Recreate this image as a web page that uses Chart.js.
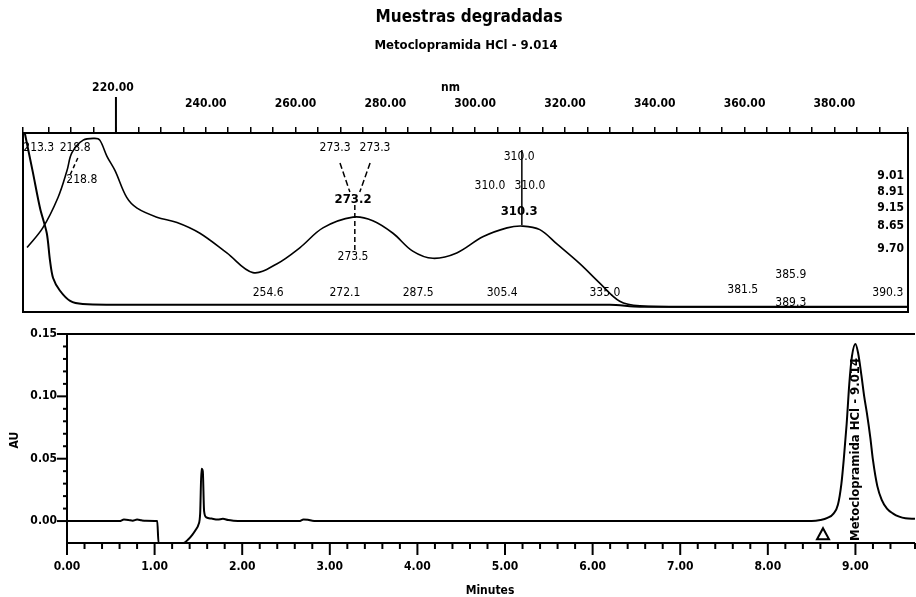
<!DOCTYPE html>
<html>
<head>
<meta charset="utf-8">
<script src="https://cdn.jsdelivr.net/npm/chart.js@4.4.1/dist/chart.umd.min.js"></script>
<style>
  html, body { margin: 0; padding: 0; background: #fff; }
  #wrap { position: relative; width: 916px; height: 597px; overflow: hidden; }
  .box { position: absolute; left: 0; width: 916px; }
</style>
</head>
<body>
<div id="wrap">
  <div class="box" style="top:0;height:318px"><canvas id="spec"></canvas></div>
  <div class="box" style="top:312px;height:285px"><canvas id="chrom"></canvas></div>
</div>
<script>
const FONT = "'DejaVu Sans Condensed', 'Liberation Sans Narrow', 'DejaVu Sans', sans-serif";
Chart.defaults.font.family = FONT;
Chart.defaults.color = "#000";

// UV spectrum (nm / absorbance, relative units)
const specNm = [200.2, 203.7, 207.1, 209.1, 210.2, 212.7, 215.3, 216.4, 218.0, 219.8, 222.4, 224.7,
  229.1, 233.6, 238.7, 244.7, 250.5, 255.9, 261.0, 266.1, 272.8, 277.2, 281.7, 286.1, 290.6,
  295.9, 301.7, 307.1, 310.6, 314.4, 318.2, 323.3, 327.8, 332.2, 336.7, 350.0, 396.4];
const specAbs = [0.36, 0.47, 0.64, 0.79, 0.89, 0.96, 0.97, 0.96, 0.87, 0.79, 0.64, 0.58,
  0.53, 0.50, 0.44, 0.33, 0.22, 0.27, 0.36, 0.47, 0.53, 0.51, 0.44, 0.34, 0.30,
  0.33, 0.42, 0.47, 0.48, 0.46, 0.38, 0.27, 0.16, 0.06, 0.034, 0.028, 0.028];

// second spectrum, falls off fast below 215 nm
const lowNm = [199.7, 201.5, 203.1, 204.6, 205.3, 206.0, 207.5, 209.8, 212.6, 227.6, 330.0, 336.7, 396.4];
const lowAbs = [1.0, 0.78, 0.58, 0.44, 0.29, 0.19, 0.12, 0.062, 0.045, 0.04, 0.04, 0.03, 0.03];

// peak / valley annotations on the spectrum
const specLabels = [
  { nm: 202.8, v: 0.916, text: "213.3" },
  { nm: 210.9, v: 0.916, text: "218.8" },
  { nm: 212.4, v: 0.737, text: "218.8" },
  { nm: 268.8, v: 0.916, text: "273.3" },
  { nm: 277.7, v: 0.916, text: "273.3" },
  { nm: 272.8, v: 0.626, text: "273.2", bold: true },
  { nm: 272.8, v: 0.307, text: "273.5" },
  { nm: 253.9, v: 0.106, text: "254.6" },
  { nm: 271.0, v: 0.106, text: "272.1" },
  { nm: 287.3, v: 0.106, text: "287.5" },
  { nm: 309.8, v: 0.866, text: "310.0" },
  { nm: 303.3, v: 0.704, text: "310.0" },
  { nm: 312.2, v: 0.704, text: "310.0" },
  { nm: 309.8, v: 0.559, text: "310.3", bold: true },
  { nm: 306.0, v: 0.106, text: "305.4" },
  { nm: 328.9, v: 0.106, text: "335.0" },
  { nm: 359.6, v: 0.123, text: "381.5" },
  { nm: 370.3, v: 0.207, text: "385.9" },
  { nm: 370.3, v: 0.050, text: "389.3" },
  { nm: 391.9, v: 0.106, text: "390.3" }
];
const rtList = ["9.01", "8.91", "9.15", "8.65", "9.70"];
const rtLevels = [0.76, 0.67, 0.58, 0.48, 0.35];

// chromatogram (minutes / AU)
const chromTime = [0, 0.6, 0.65, 0.7, 0.75, 0.8, 0.85, 0.9, 1.0, 1.03, 1.045, 1.33, 1.38, 1.43, 1.47,
  1.5, 1.52, 1.535, 1.55, 1.565, 1.59, 1.65, 1.72, 1.78, 1.84, 1.9, 2.0, 2.65, 2.7, 2.75, 2.8, 2.85,
  8.5, 8.6, 8.68, 8.75, 8.8, 8.84, 8.87, 8.9, 8.93, 8.96, 9.0, 9.03, 9.07, 9.1, 9.13, 9.17, 9.2,
  9.25, 9.3, 9.36, 9.43, 9.5, 9.57, 9.68];
const chromAU = [0, 0, 0.0012, 0.0009, 0.0003, 0.0012, 0.0006, 0.0002, 0.0001, 0, -0.0176, -0.0176,
  -0.015, -0.011, -0.007, -0.003, 0.006, 0.042, 0.040, 0.008, 0.003, 0.002, 0.0012, 0.0018, 0.0008,
  0.0003, 0, 0, 0.0012, 0.001, 0.0002, 0, 0, 0.0008, 0.0025, 0.006, 0.013, 0.03, 0.052, 0.078,
  0.11, 0.132, 0.142, 0.135, 0.116, 0.1, 0.087, 0.067, 0.049, 0.028, 0.017, 0.01, 0.006, 0.0035,
  0.0022, 0.0018];
const peakName = "Metoclopramida HCl - 9.014";
const peakTime = 9.0;

const xy = (xs, ys) => xs.map((x, i) => ({ x: x, y: ys[i] }));

// the tick padding would otherwise be added to the side margins
function fixHeight(h) {
  return scale => {
    scale.height = h;
    scale.paddingLeft = 0;
    scale.paddingRight = 0;
  };
}

const specDecor = {
  id: "specDecor",
  afterDraw(chart) {
    const { ctx, chartArea: a, scales: { x, y } } = chart;
    ctx.save();
    ctx.strokeStyle = "#000";
    ctx.fillStyle = "#000";
    ctx.lineWidth = 2;
    ctx.strokeRect(a.left, a.top, a.right - a.left, a.bottom - a.top);

    // titles
    ctx.textAlign = "center";
    ctx.textBaseline = "middle";
    ctx.font = "bold 17px " + FONT;
    ctx.fillText("Muestras degradadas", 469, 18);
    ctx.font = "bold 13px " + FONT;
    ctx.fillText(peakName, 466, 46);

    // extracted wavelength marker
    const px220 = x.getPixelForValue(220);
    ctx.beginPath();
    ctx.moveTo(px220, 97);
    ctx.lineTo(px220, a.top);
    ctx.stroke();
    ctx.font = "bold 12px " + FONT;
    ctx.fillText("220.00", px220 - 3, 88);
    ctx.fillText("nm", x.getPixelForValue(294.5), 88);

    // leader lines
    ctx.lineWidth = 1.5;
    const seg = (a1, b1, a2, b2, dash) => {
      ctx.setLineDash(dash || []);
      ctx.beginPath();
      ctx.moveTo(x.getPixelForValue(a1), y.getPixelForValue(b1));
      ctx.lineTo(x.getPixelForValue(a2), y.getPixelForValue(b2));
      ctx.stroke();
    };
    seg(269.9, 0.832, 272.1, 0.67, [6, 3]);
    seg(276.6, 0.832, 274.3, 0.67, [6, 3]);
    seg(273.2, 0.598, 273.2, 0.346, [5, 3]);
    seg(310.4, 0.905, 310.4, 0.486);
    seg(211.5, 0.86, 209.5, 0.75, [4, 3]);
    ctx.setLineDash([]);

    // labels
    specLabels.forEach(l => {
      ctx.font = (l.bold ? "bold 13px " : "12px ") + FONT;
      ctx.fillText(l.text, x.getPixelForValue(l.nm), y.getPixelForValue(l.v));
    });
    ctx.font = "bold 12px " + FONT;
    ctx.textAlign = "right";
    rtList.forEach((t, i) => ctx.fillText(t, a.right - 4, y.getPixelForValue(rtLevels[i])));
    ctx.restore();
  }
};

new Chart(document.getElementById("spec"), {
  type: "line",
  data: {
    datasets: [
      { data: xy(specNm, specAbs), borderColor: "#000", borderWidth: 1.6, pointRadius: 0, tension: 0.35 },
      { data: xy(lowNm, lowAbs), borderColor: "#000", borderWidth: 2, pointRadius: 0, tension: 0.3 }
    ]
  },
  options: {
    responsive: true,
    maintainAspectRatio: false,
    animation: false,
    layout: { padding: { left: 23, right: 8, top: 0, bottom: 6 } },
    plugins: { legend: { display: false }, tooltip: { enabled: false } },
    scales: {
      x: {
        type: "linear",
        position: "top",
        min: 199.3,
        max: 396.4,
        afterFit: fixHeight(133),
        border: { display: false },
        grid: { drawOnChartArea: false, tickLength: 6, color: "#000", lineWidth: 1.5 },
        ticks: {
          stepSize: 5,
          autoSkip: false,
          maxRotation: 0,
          padding: 16,
          font: { size: 12, weight: "bold" },
          callback: v => (Math.abs(v % 20) < 1e-6 && v !== 220 ? v.toFixed(2) : "")
        }
      },
      y: { display: false, min: 0, max: 1 }
    }
  },
  plugins: [specDecor]
});

const chromDecor = {
  id: "chromDecor",
  afterDraw(chart) {
    const { ctx, chartArea: a, scales: { x, y } } = chart;
    ctx.save();
    ctx.strokeStyle = "#000";
    ctx.fillStyle = "#000";
    ctx.lineWidth = 2;
    ctx.beginPath();
    ctx.moveTo(a.right, a.top);
    ctx.lineTo(a.left, a.top);
    ctx.lineTo(a.left, a.bottom);
    ctx.lineTo(a.right, a.bottom);
    ctx.stroke();

    // tick marks, long on the labelled ones
    x.ticks.forEach(t => {
      const px = x.getPixelForValue(t.value);
      const major = Math.abs(t.value - Math.round(t.value)) < 1e-6;
      ctx.beginPath();
      ctx.moveTo(px, a.bottom);
      ctx.lineTo(px, a.bottom + (major ? 12 : 6));
      ctx.stroke();
    });
    y.ticks.forEach(t => {
      if (t.value < 0) return;
      const py = y.getPixelForValue(t.value);
      const major = Math.abs(t.value * 20 - Math.round(t.value * 20)) < 1e-6;
      ctx.beginPath();
      ctx.moveTo(a.left, py);
      ctx.lineTo(a.left - (major ? 10 : 4), py);
      ctx.stroke();
    });

    ctx.textAlign = "center";
    ctx.textBaseline = "middle";
    ctx.font = "bold 12px " + FONT;
    ctx.fillText("Minutes", 490, 279);
    ctx.save();
    ctx.translate(15, 128);
    ctx.rotate(-Math.PI / 2);
    ctx.fillText("AU", 0, 0);
    ctx.restore();

    // integration start marker
    const tx = x.getPixelForValue(8.63), ty = y.getPixelForValue(-0.0105);
    ctx.lineWidth = 2;
    ctx.beginPath();
    ctx.moveTo(tx, ty - 6);
    ctx.lineTo(tx + 6, ty + 5);
    ctx.lineTo(tx - 6, ty + 5);
    ctx.closePath();
    ctx.stroke();

    // peak name written up the apex
    ctx.save();
    ctx.translate(x.getPixelForValue(peakTime), a.bottom - 2);
    ctx.rotate(-Math.PI / 2);
    ctx.textAlign = "left";
    ctx.font = "bold 13px " + FONT;
    ctx.fillText(peakName, 0, 0);
    ctx.restore();
    ctx.restore();
  }
};

new Chart(document.getElementById("chrom"), {
  type: "line",
  data: {
    datasets: [
      { data: xy(chromTime, chromAU), borderColor: "#000", borderWidth: 2, pointRadius: 0,
        cubicInterpolationMode: "monotone" }
    ]
  },
  options: {
    responsive: true,
    maintainAspectRatio: false,
    animation: false,
    layout: { padding: { left: 0, right: 1, top: 22, bottom: 0 } },
    plugins: { legend: { display: false }, tooltip: { enabled: false } },
    scales: {
      x: {
        type: "linear",
        min: 0,
        max: 9.68,
        afterFit: fixHeight(54),
        border: { display: false },
        grid: { display: false, drawTicks: false },
        ticks: {
          stepSize: 0.2,
          autoSkip: false,
          maxRotation: 0,
          padding: 17,
          font: { size: 12, weight: "bold" },
          callback: v => (Math.abs(v - Math.round(v)) < 1e-6 ? v.toFixed(2) : "")
        }
      },
      y: {
        min: -0.0176,
        max: 0.15,
        afterFit(scale) { scale.width = 67; },
        border: { display: false },
        grid: { display: false, drawTicks: false },
        ticks: {
          stepSize: 0.01,
          autoSkip: false,
          padding: 10,
          font: { size: 12, weight: "bold" },
          callback: v => (v >= 0 && Math.abs(v * 20 - Math.round(v * 20)) < 1e-6 ? v.toFixed(2) : "")
        }
      }
    }
  },
  plugins: [chromDecor]
});
</script>
</body>
</html>
